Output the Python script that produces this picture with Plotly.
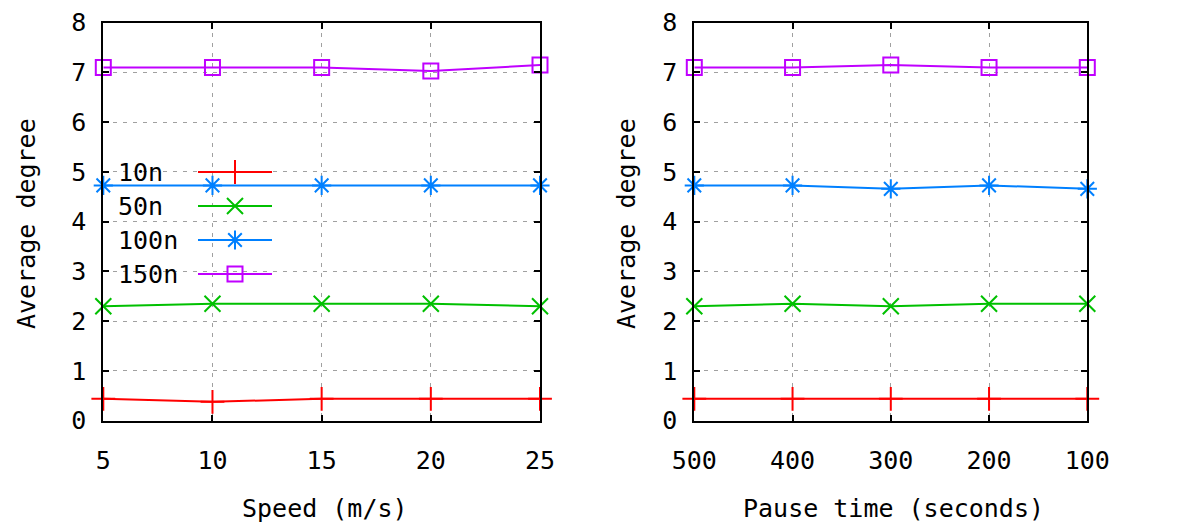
import plotly.graph_objects as go

# ---- data ----
speed = [5, 10, 15, 20, 25]
pause = [500, 400, 300, 200, 100]
series_names = ["10n", "50n", "100n", "150n"]
speed_10n = [0.44, 0.38, 0.44, 0.44, 0.44]
speed_50n = [2.30, 2.35, 2.35, 2.35, 2.30]
speed_100n = [4.73, 4.73, 4.73, 4.73, 4.73]
speed_150n = [7.10, 7.10, 7.10, 7.03, 7.15]
pause_10n = [0.44, 0.44, 0.44, 0.44, 0.44]
pause_50n = [2.30, 2.35, 2.30, 2.35, 2.35]
pause_100n = [4.73, 4.73, 4.66, 4.73, 4.66]
pause_150n = [7.10, 7.10, 7.15, 7.10, 7.10]
y_ticks = [0, 1, 2, 3, 4, 5, 6, 7, 8]
speed_ticks = [5, 10, 15, 20, 25]
pause_ticks = [500, 400, 300, 200, 100]
x_titles = ["Speed (m/s)", "Pause time (seconds)"]
y_title = "Average degree"

colors = ["#ff0000", "#00c000", "#0080ff", "#c000ff"]
symbols = ["cross-thin-open", "x-thin-open", "asterisk-open", "square-open"]
msizes = [17, 16, 16, 15]

# page has an 8px body margin at top/left
OFF = 8
W, H = 1180 - OFF, 523 - OFF
FONT = "DejaVu Sans Mono"
FS = 25


def sx(px):
    return px - OFF


def sy(py):
    return py - OFF


fig = go.Figure()

speed_series = [speed_10n, speed_50n, speed_100n, speed_150n]
pause_series = [pause_10n, pause_50n, pause_100n, pause_150n]

for i, name in enumerate(series_names):
    fig.add_trace(go.Scatter(
        x=speed, y=speed_series[i], mode="lines+markers", name=name,
        line=dict(color=colors[i], width=2),
        marker=dict(symbol=symbols[i], size=msizes[i], color=colors[i],
                    line=dict(color=colors[i], width=2)),
        xaxis="x", yaxis="y", showlegend=False, cliponaxis=False))
    fig.add_trace(go.Scatter(
        x=pause, y=pause_series[i], mode="lines+markers", name=name,
        line=dict(color=colors[i], width=2),
        marker=dict(symbol=symbols[i], size=msizes[i], color=colors[i],
                    line=dict(color=colors[i], width=2)),
        xaxis="x2", yaxis="y2", showlegend=False, cliponaxis=False))

# custom gnuplot-style key (text left, sample right), on an overlay pixel axis
key_rows = [172, 206, 240, 274]
key_text_x = 116
key_line = (198, 272)
for i, name in enumerate(series_names):
    yk = sy(key_rows[i])
    x0, x1 = sx(key_line[0]), sx(key_line[1])
    fig.add_trace(go.Scatter(
        x=[x0, (x0 + x1) / 2, x1], y=[yk, yk, yk], mode="lines",
        line=dict(color=colors[i], width=2),
        xaxis="x3", yaxis="y3", showlegend=False, hoverinfo="skip"))
    fig.add_trace(go.Scatter(
        x=[(x0 + x1) / 2], y=[yk], mode="markers",
        marker=dict(symbol=symbols[i], size=msizes[i], color=colors[i],
                    line=dict(color=colors[i], width=2)),
        xaxis="x3", yaxis="y3", showlegend=False, hoverinfo="skip"))
    fig.add_annotation(x=sx(key_text_x), y=yk, xref="x3", yref="y3", text=name,
                       showarrow=False, xanchor="left", yanchor="middle",
                       font=dict(family=FONT, size=FS, color="black"))

axis_common = dict(
    showline=True, linecolor="black", linewidth=2, mirror="ticks",
    ticks="inside", ticklen=6, tickwidth=1.5, tickcolor="black",
    showgrid=True, gridcolor="#a0a0a0", griddash="4px,6px", gridwidth=1,
    zeroline=False, automargin=False,
    tickfont=dict(family=FONT, size=FS, color="black"),
)

ydom = [1 - sy(420.7) / H, 1 - sy(22.7) / H]
xdom1 = [sx(103.3) / W, sx(540) / W]
xdom2 = [sx(694.3) / W, sx(1087.3) / W]

# axis titles as annotations (pixel overlay axis)
title_x = [(103.3 + 540) / 2 + 3, (694.3 + 1087.3) / 2 + 3]
title_yx = [26, 626]
for j in range(2):
    fig.add_annotation(x=sx(title_x[j]), y=sy(508), xref="x3", yref="y3", text=x_titles[j],
                       showarrow=False, xanchor="center", yanchor="middle",
                       font=dict(family=FONT, size=FS, color="black"))
    fig.add_annotation(x=sx(title_yx[j]), y=sy(224), xref="x3", yref="y3", text=y_title,
                       showarrow=False, xanchor="center", yanchor="middle", textangle=-90,
                       font=dict(family=FONT, size=FS, color="black"))

fig.update_layout(
    width=W, height=H, margin=dict(l=0, r=0, t=0, b=0, autoexpand=False),
    paper_bgcolor="white", plot_bgcolor="rgba(0,0,0,0)", showlegend=False,
    xaxis=dict(axis_common, domain=xdom1, range=[5, 25],
               tickvals=speed_ticks, ticklabelstandoff=16, anchor="y"),
    yaxis=dict(axis_common, domain=ydom, range=[0, 8], tickvals=y_ticks,
               ticklabelstandoff=10, anchor="x"),
    xaxis2=dict(axis_common, domain=xdom2, range=[500, 100],
                tickvals=pause_ticks, ticklabelstandoff=16, anchor="y2"),
    yaxis2=dict(axis_common, domain=ydom, range=[0, 8], tickvals=y_ticks,
                ticklabelstandoff=10, anchor="x2"),
    xaxis3=dict(domain=[0, 1], range=[0, W], visible=False, anchor="y3",
                fixedrange=True, automargin=False),
    yaxis3=dict(domain=[0, 1], range=[H, 0], visible=False, anchor="x3",
                fixedrange=True, automargin=False),
)

fig.write_html("out.html")
